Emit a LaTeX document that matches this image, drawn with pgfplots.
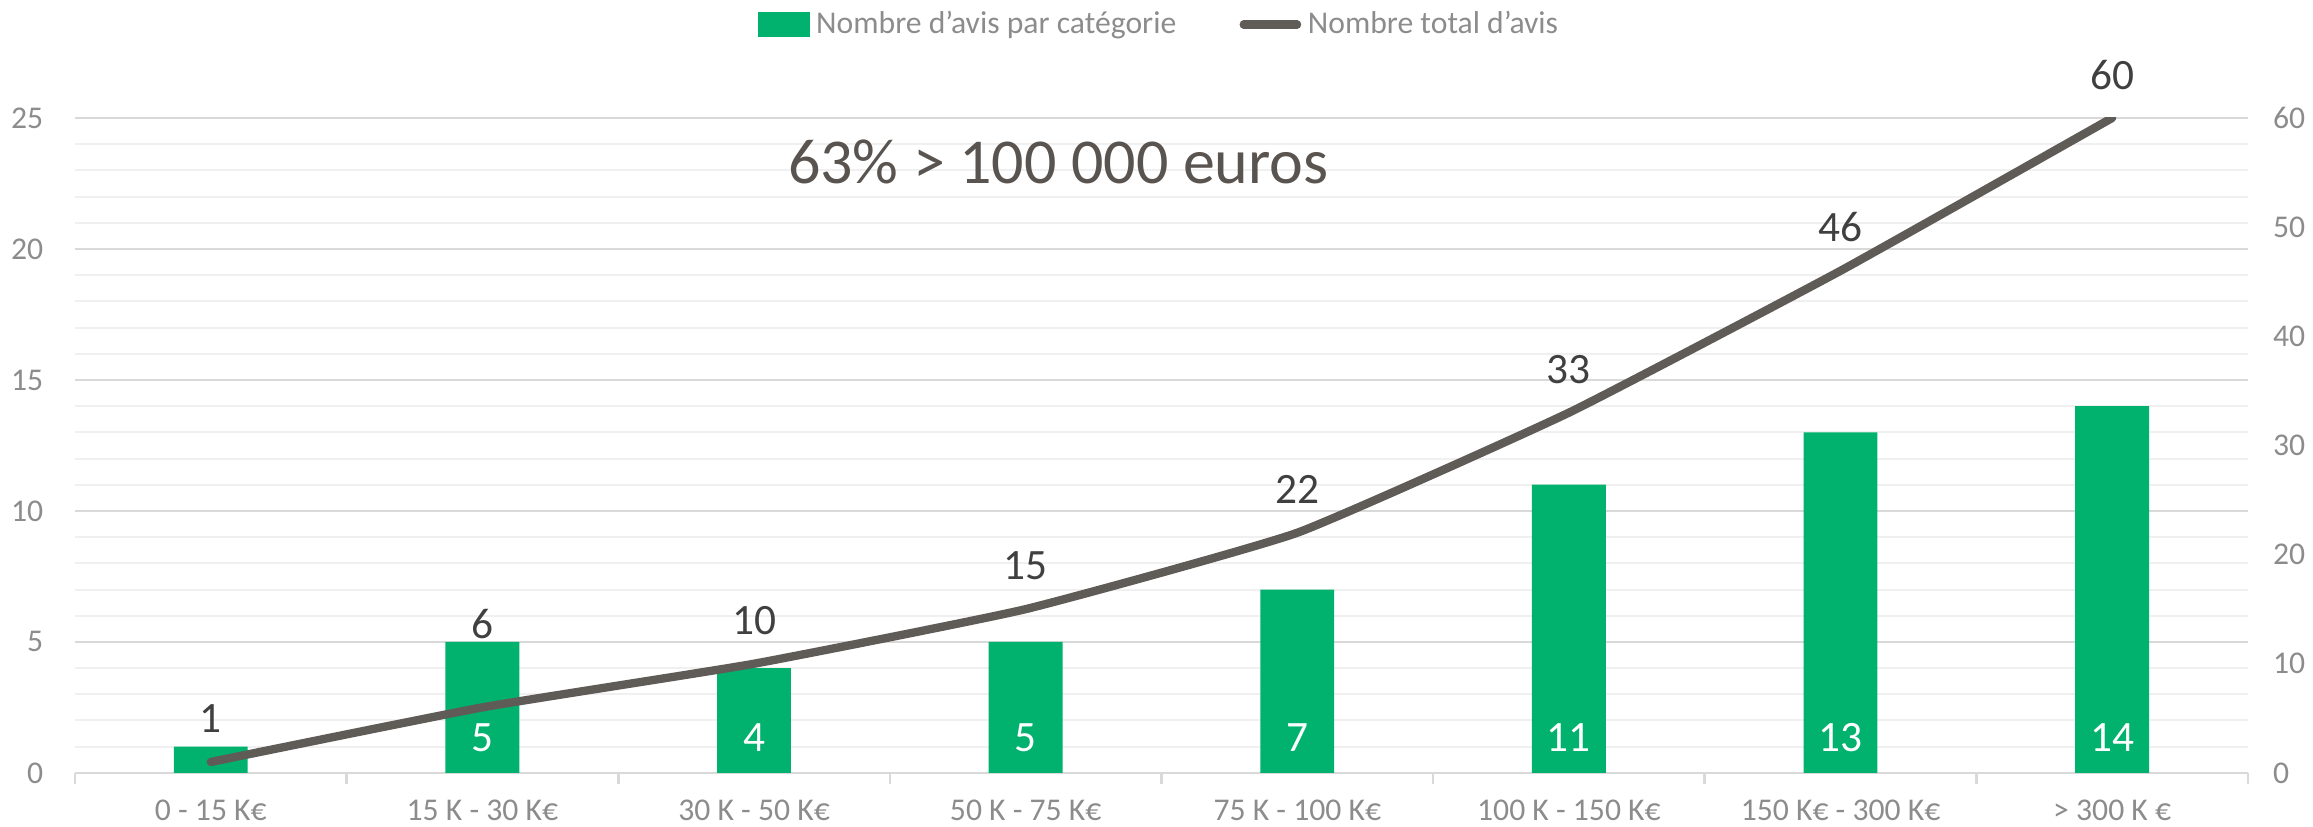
\documentclass[border=0pt]{standalone}
\usepackage{fontspec}
\setmainfont{Carlito}
\usepackage{pgfplots}
\pgfplotsset{compat=1.18}

\definecolor{barg}{HTML}{00B26E}
\definecolor{lineg}{HTML}{5F5B57}
\definecolor{tickg}{HTML}{8C8C8C}
\definecolor{majg}{HTML}{D9D9D9}
\definecolor{ming}{HTML}{F0F0F0}
\definecolor{labg}{HTML}{404040}
\definecolor{noteg}{HTML}{595450}

% bars: number of reviews per category
\pgfplotstableread{
x y
0 1
1 5
2 4
3 5
4 7
5 11
6 13
7 14
}\bars

% line: running total, dy = label offset
\pgfplotstableread{
x y dy
0 1 13
1 6 25
2 10 13
3 15 13
4 22 13
5 33 13
6 46 13
7 60 13
}\total

\pgfplotsset{
  base/.style={
    width=652pt, height=196.5pt, scale only axis,
    at={(0,0)}, anchor=south west,
    xmin=-0.5, xmax=7.5,
    /pgf/number format/assume math mode=true,
    tick label style={font=\fontsize{9.5}{11}\selectfont, text=tickg},
  }
}

\begin{document}
\begin{tikzpicture}
\useasboundingbox (-22.5pt,-16.2pt) rectangle (671.5pt,231.9pt);

\begin{axis}[base,
  ymin=0, ymax=25, ytick={0,5,...,25}, minor y tick num=4,
  ymajorgrids, yminorgrids,
  major grid style={majg, line width=0.6pt},
  minor grid style={ming, line width=0.6pt},
  axis x line*=bottom, axis y line*=left,
  x axis line style={majg, line width=0.8pt, -},
  y axis line style={draw=none},
  xtick={0,...,7},
  xticklabels={0 - 15 K€, 15 K - 30 K€, 30 K - 50 K€, 50 K - 75 K€, 75 K - 100 K€, 100 K - 150 K€, 150 K€ - 300 K€, > 300 K €},
  minor xtick={-0.5,0.5,...,7.5},
  major tick length=0pt, minor tick length=3.3pt,
  tick align=outside,
  minor y tick style={draw=none},
  minor x tick style={majg, line width=0.8pt},
  xticklabel style={inner sep=0pt, yshift=-8pt},
  yticklabel style={xshift=-6pt},
]
  \addplot[ybar, bar width=0.272, fill=barg, draw=none] table {\bars};
  % value labels inside the bars
  \addplot[draw=none, mark=none, forget plot, nodes near coords, point meta=explicit,
    nodes near coords style={anchor=center, text=white, font=\fontsize{13}{15}\selectfont}]
    table[meta=v] {
x y v
1 1.35 5
2 1.35 4
3 1.35 5
4 1.35 7
5 1.35 11
6 1.35 13
7 1.35 14
};
  \node[anchor=base, text=noteg, font=\fontsize{19.2}{23}\selectfont] at (axis cs:3.12,22.5) {63\% > 100 000 euros};
\end{axis}

\begin{axis}[base,
  ymin=0, ymax=60, ytick={0,10,...,60},
  axis y line*=right, axis x line=none,
  y axis line style={draw=none}, major tick length=0pt,
  yticklabel style={xshift=4pt},
  legend style={at={(0.5,1)}, anchor=center, yshift=28pt, draw=none, fill=none,
    legend columns=2, font=\fontsize{9.5}{11}\selectfont, text=tickg,
    /tikz/every even column/.append style={column sep=17pt}},
]
  \addlegendimage{legend image code/.code={\fill[barg] (0pt,-3.5pt) rectangle (15pt,3.5pt);}}
  \addlegendentry{Nombre d'avis par catégorie}
  \addplot[lineg, line width=2.5pt, line cap=round, line join=round, smooth, tension=0.25, mark=none,
    visualization depends on={\thisrow{dy} \as \dy},
    nodes near coords, point meta=y,
    nodes near coords style={anchor=center, yshift=\dy pt, text=labg, font=\fontsize{13}{15}\selectfont},
    legend image code/.code={\draw[lineg, line width=2.5pt, line cap=round] (0pt,0pt) -- (16pt,0pt);}]
    table {\total};
  \addlegendentry{Nombre total d'avis}
\end{axis}
\end{tikzpicture}
\end{document}
